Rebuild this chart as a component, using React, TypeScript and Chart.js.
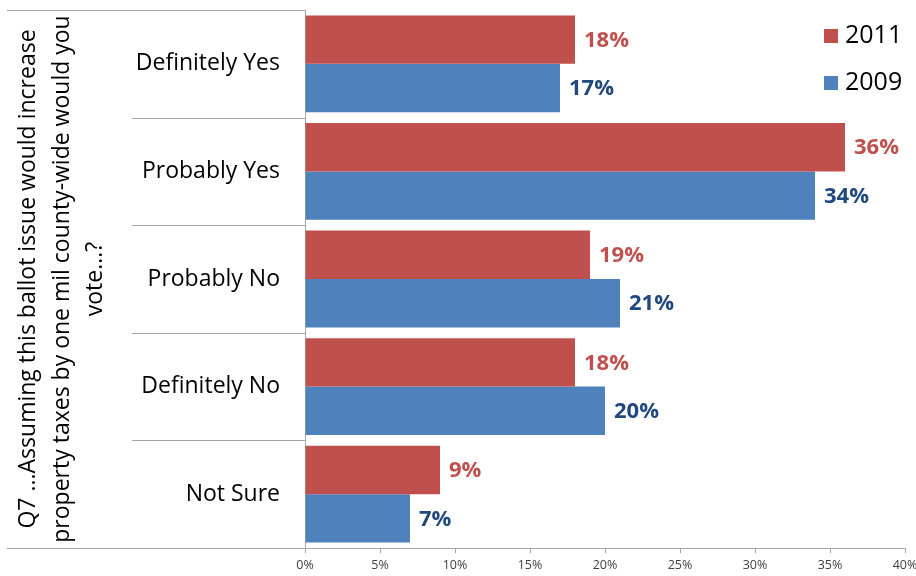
import React, { useEffect, useRef } from "react";
import { Chart, registerables } from "chart.js";

Chart.register(...registerables);

const categories = ["Definitely Yes", "Probably Yes", "Probably No", "Definitely No", "Not Sure"];
const values2011 = [18, 36, 19, 18, 9];
const values2009 = [17, 34, 21, 20, 7];
const seriesLabels = ["2011", "2009"];
const axisTitle = [
  "Q7 ...Assuming this ballot issue would increase",
  "property taxes by one mil county-wide would you",
  "vote...?",
];

const FONT = "'Open Sans', Lato, sans-serif";
const barColors = ["#C0504D", "#4F81BD"];
const labelColors = ["#C0504D", "#22497F"];
const lineColor = "#A6A6A6";

const framePlugin = {
  id: "frame",
  afterDraw(chart: any) {
    const { ctx, chartArea } = chart;
    const yScale = chart.scales.y;
    ctx.save();
    ctx.strokeStyle = lineColor;
    ctx.lineWidth = 1;
    const hline = (x1: number, x2: number, y: number) => {
      const yy = Math.round(y) + 0.5;
      ctx.beginPath();
      ctx.moveTo(x1, yy);
      ctx.lineTo(x2, yy);
      ctx.stroke();
    };
    hline(7, chartArea.left, chartArea.top);
    hline(7, chartArea.right, chartArea.bottom);
    for (let i = 0; i < categories.length - 1; i++) {
      const y = (yScale.getPixelForTick(i) + yScale.getPixelForTick(i + 1)) / 2;
      hline(132, chartArea.left, y);
    }
    // data labels
    chart.data.datasets.forEach((ds: any, di: number) => {
      const meta = chart.getDatasetMeta(di);
      ctx.fillStyle = labelColors[di];
      ctx.font = `bold 22px ${FONT}`;
      ctx.textAlign = "left";
      ctx.textBaseline = "middle";
      meta.data.forEach((el: any, i: number) => {
        ctx.fillText(ds.data[i] + "%", el.x + 9, el.y + 1);
      });
    });
    // legend
    chart.data.datasets.forEach((ds: any, di: number) => {
      const y0 = 29 + 47 * di;
      ctx.fillStyle = ds.backgroundColor;
      ctx.fillRect(824, y0, 14, 14);
      ctx.fillStyle = "#000";
      ctx.font = `25px ${FONT}`;
      ctx.textAlign = "left";
      ctx.textBaseline = "middle";
      ctx.fillText(ds.label, 845, y0 + 7);
    });
    ctx.restore();
  },
};

export default function App() {
  const ref = useRef<HTMLCanvasElement | null>(null);
  useEffect(() => {
    if (!ref.current) return;
    const chart = new Chart(ref.current, {
      type: "bar",
      data: {
        labels: categories,
        datasets: [
          { label: seriesLabels[0], data: values2011, backgroundColor: barColors[0], borderWidth: 0, categoryPercentage: 0.9, barPercentage: 1 },
          { label: seriesLabels[1], data: values2009, backgroundColor: barColors[1], borderWidth: 0, categoryPercentage: 0.9, barPercentage: 1 },
        ],
      },
      options: {
        indexAxis: "y",
        responsive: false,
        animation: false,
        layout: { padding: { top: 10, right: 11, bottom: 0, left: 0 } },
        plugins: { legend: { display: false }, tooltip: { enabled: false } },
        scales: {
          x: {
            min: 0,
            max: 40,
            ticks: {
              stepSize: 5,
              callback: (v: any) => v + "%",
              font: { family: FONT, size: 12.5 },
              color: "#404040",
              padding: 5,
              maxRotation: 0,
            },
            grid: { display: true, drawOnChartArea: false, drawTicks: true, tickLength: 5, color: lineColor },
            border: { display: true, color: lineColor },
            afterFit: (s: any) => { s.height = 28; s.paddingLeft = 0; s.paddingRight = 0; },
          },
          y: {
            ticks: {
              font: { family: FONT, size: 23 },
              color: "#000",
              padding: 17,
              autoSkip: false,
            },
            grid: { display: false },
            border: { display: true, color: lineColor },
            title: {
              display: true,
              text: axisTitle,
              font: { family: FONT, size: 23, lineHeight: 1.45 },
              color: "#000",
              padding: { top: 12, bottom: 0 },
            },
            afterFit: (s: any) => { s.width = 305; s.paddingTop = 0; s.paddingBottom = 0; },
          },
        },
      },
      plugins: [framePlugin],
    });
    return () => chart.destroy();
  }, []);
  return (
    <div style={{ position: "absolute", left: 0, top: 0, width: 916, height: 576, background: "#fff" }}>
      <canvas ref={ref} width={916} height={576} />
    </div>
  );
}
